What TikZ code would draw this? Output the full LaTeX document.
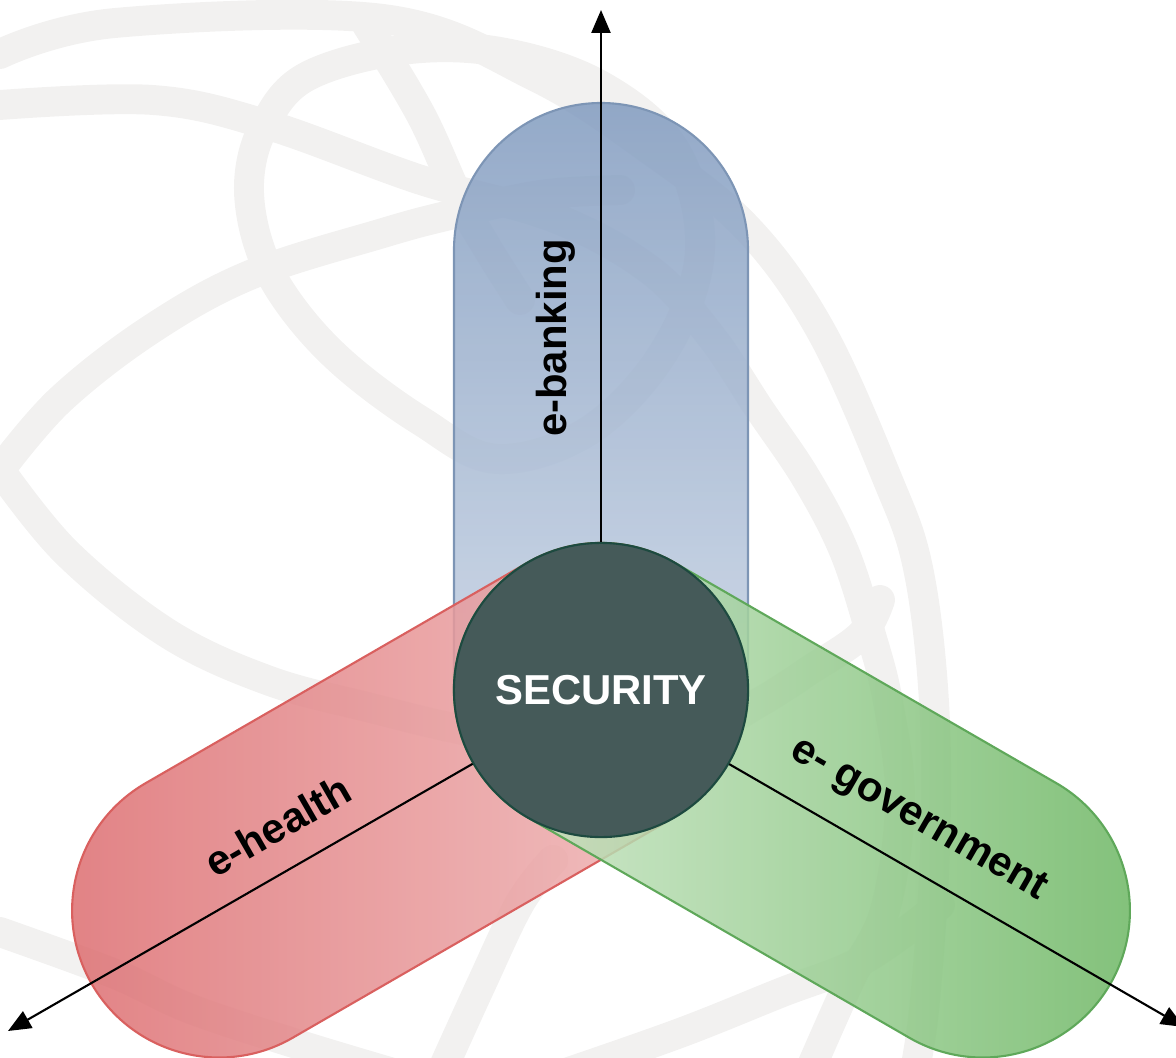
\documentclass[tikz,border=0pt]{standalone}
\usepackage{fontspec}
\setmainfont{Liberation Sans}
\usepackage{xcolor}
\usetikzlibrary{arrows.meta}

\definecolor{swirlgray}{RGB}{242,241,240}
\definecolor{banktop}{RGB}{129,155,191}
\definecolor{bankbot}{RGB}{213,222,235}
\definecolor{bankline}{RGB}{125,149,181}
\definecolor{healthout}{RGB}{219,103,106}
\definecolor{healthin}{RGB}{242,195,195}
\definecolor{healthline}{RGB}{217,96,95}
\definecolor{govout}{RGB}{102,179,92}
\definecolor{govin}{RGB}{214,236,210}
\definecolor{govline}{RGB}{95,168,90}
\definecolor{secfill}{RGB}{69,90,89}
\definecolor{secline}{RGB}{29,74,64}

\tikzset{
  swirl/.style={draw=swirlgray, line width=8.5pt, line cap=round},
  capsule/.style={line width=0.6pt, rounded corners=1.47cm, fill opacity=0.85},
  lbl/.style={font=\bfseries\fontsize{11.9}{14}\selectfont, inner sep=0pt},
  secnode/.style={circle, fill=secfill, draw=secline, line width=0.6pt,
    minimum size=2.94cm, inner sep=0pt, text=white,
    font=\bfseries\fontsize{11.9}{14}\selectfont},
  axis/.style={line width=0.6pt, -{Triangle[length=6.5pt,width=5.4pt]}}
}

\begin{document}
\begin{tikzpicture}[x=0.01cm, y=-0.01cm]
\useasboundingbox (0,0) rectangle (1176,1058);

% globe watermark behind everything
\draw[swirl] plot[smooth, tension=0.6] coordinates {(0,54) (115,23) (383,19) (536,77) (650,150) (747,228) (821,331) (887,478) (918,568) (934,702) (935,850) (925,1000) (915,1070)};
\draw[swirl] plot[smooth, tension=0.6] coordinates {(0,105) (153,100) (268,125) (421,180) (555,218) (650,270) (710,335) (760,410) (806,478) (844,551) (871,635) (888,702) (900,800) (885,910) (850,980) (810,1070)};
\draw[swirl] plot[smooth cycle, tension=0.6] coordinates {(306,77) (402,50) (500,52) (600,85) (675,150) (700,250) (665,350) (590,430) (497,459) (421,421) (344,364) (291,306) (260,249) (249,184) (264,126)};
\draw[swirl] plot[smooth, tension=0.6] coordinates {(0,470) (60,400) (150,330) (250,275) (383,233) (450,215) (540,195) (620,190)};
\draw[swirl] plot[smooth, tension=0.6] coordinates {(0,470) (67,553) (167,633) (267,680) (367,707) (480,733) (600,745) (700,732) (760,702) (810,670) (861,635) (880,600)};
\draw[swirl] plot[smooth, tension=0.6] coordinates {(367,25) (421,115) (465,210) (520,300)};
\draw[swirl] plot[smooth, tension=0.6] coordinates {(0,932) (115,974) (191,1009) (300,1045) (400,1075)};
\draw[swirl] plot[smooth, tension=0.6] coordinates {(440,1075) (480,987) (520,903) (553,860)};
\draw[swirl] plot[smooth, tension=0.6] coordinates {(560,1075) (680,1033) (780,993) (863,960) (940,905)};

% capsules
\shade[capsule, draw=bankline, top color=banktop, bottom color=bankbot]
  (454,103) rectangle (748,837);
\begin{scope}[shift={(601,690)}, rotate=210]
  \shade[capsule, draw=healthline, left color=healthout, right color=healthin]
    (-147,-147) rectangle (588,147);
  \node[lbl, rotate=30] (health) at (348,44) {e-health};
\end{scope}
\begin{scope}[shift={(601,690)}, rotate=-30]
  \shade[capsule, draw=govline, left color=govin, right color=govout]
    (-147,-147) rectangle (588,147);
  \node[lbl, rotate=-30] (gov) at (340,-46) {e- government};
\end{scope}
\node[lbl, rotate=90] (bank) at (556,338) {e-banking};

% centre and axes
\node[secnode] (sec) at (601,690) {SECURITY};
\coordinate (up) at (601,10);
\coordinate (dl) at (8,1031);
\coordinate (dr) at (1184,1027);
\draw[axis] (sec) -- (up);
\draw[axis] (sec) -- (dl);
\draw[axis] (sec) -- (dr);
\end{tikzpicture}
\end{document}
